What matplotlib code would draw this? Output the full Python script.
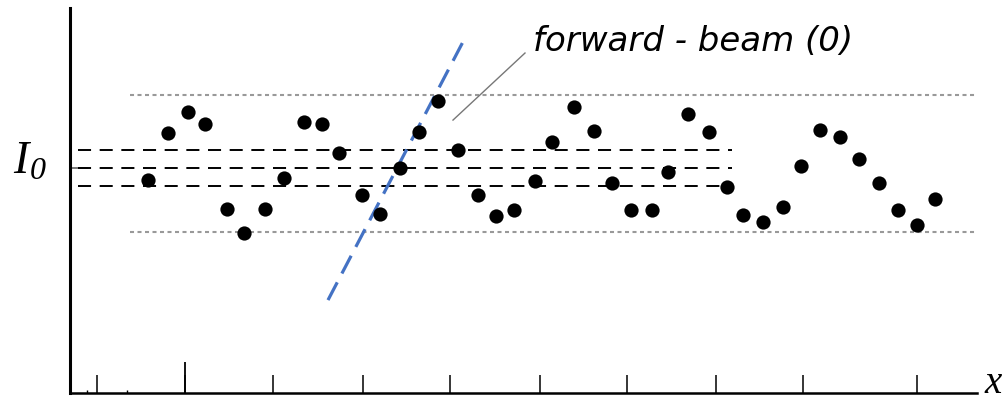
import matplotlib
matplotlib.use("Agg")
import matplotlib.pyplot as plt

plt.rcParams['lines.scale_dashes'] = False

# Data (x: position along scan, y: intensity relative to I0)
x_pos = [78, 98, 118, 135, 157, 174, 195, 214, 234, 252, 269, 292, 310, 330,
         349, 368, 388, 408, 426, 444, 465, 482, 504, 524, 542, 561, 582, 598,
         618, 639, 657, 673, 693, 713, 731, 750, 770, 789, 809, 828, 847, 865]
intensity = [0.947, 1.156, 1.249, 1.196, 0.818, 0.711, 0.818, 0.956, 1.204,
             1.196, 1.067, 0.880, 0.796, 1.000, 1.160, 1.298, 1.080, 0.880,
             0.787, 0.813, 0.942, 1.116, 1.271, 1.164, 0.933, 0.813, 0.813,
             0.982, 1.240, 1.160, 0.916, 0.791, 0.760, 0.827, 1.009, 1.169,
             1.138, 1.040, 0.933, 0.813, 0.747, 0.862]

band_levels = [1.08, 1.0, 0.92]        # black dashed lines around I0
envelope_levels = [1.324, 0.716]       # dotted max/min envelope
beam_x = [258, 395]                    # forward-beam trace
beam_y = [0.413, 1.578]
x_ticks = [27, 115, 203, 293, 380, 470, 557, 646, 733, 847]
minor_ticks = [17, 57]
arrow_x = [383, 455]
arrow_y = [1.213, 1.511]

W, H = 1007, 401
fig = plt.figure(figsize=(W / 100, H / 100), dpi=100)
ax = fig.add_axes([70 / W, 8 / H, (977 - 70) / W, (393 - 8) / H])
ax.set_xlim(0, 907)
ax.set_ylim(0, 385 / 225)

for s in ['top', 'right']:
    ax.spines[s].set_visible(False)
ax.spines['left'].set_linewidth(2.2)
ax.spines['bottom'].set_linewidth(1.8)

ax.set_xticks(x_ticks)
ax.set_xticklabels([])
ax.tick_params(axis='x', direction='in', length=13, width=1.1, color='black')
ax.set_xticks(minor_ticks, minor=True)
ax.tick_params(axis='x', which='minor', direction='in', length=2, width=1)
ax.set_yticks([1.0])
ax.set_yticklabels([])
ax.tick_params(axis='y', direction='in', length=13, width=1.1, color='#555555')

# taller tick
ax.plot([115, 115], [0, 31 / 225], color='black', lw=1.3, solid_capstyle='butt')

# dotted envelope
for lv in envelope_levels:
    ax.plot([60, 907], [lv, lv], color='#999999', lw=1.5, dashes=(2.9, 2.5))

# dashed band
for lv in band_levels:
    ax.plot([8, 662], [lv, lv], color='black', lw=1.4, dashes=(9.4, 6.2))

# blue forward-beam line
ax.plot(beam_x, beam_y, color='#4472C4', lw=2.3, dashes=(14.4, 7.2), zorder=4)

# points
ax.scatter(x_pos, intensity, s=105, color='black', zorder=5, linewidths=0)

# annotation
ax.plot(arrow_x, arrow_y, color='#777777', lw=1.0)
ax.text(463, (393 - 51) / 225, 'forward - beam (0)', fontsize=24.5,
        style='italic', family='DejaVu Sans', va='baseline', ha='left')

# axis labels
fig.text(13 / W, 1 - 173 / H, 'I', fontsize=33, style='italic',
         family='Liberation Serif', va='baseline', ha='left')
fig.text(30 / W, 1 - 179 / H, '0', fontsize=23, style='italic',
         family='Liberation Serif', va='baseline', ha='left')
fig.text(984 / W, 1 - 393 / H, 'x', fontsize=28, style='italic',
         family='Liberation Serif', va='baseline', ha='left')

fig.savefig('out.png', dpi=100)
